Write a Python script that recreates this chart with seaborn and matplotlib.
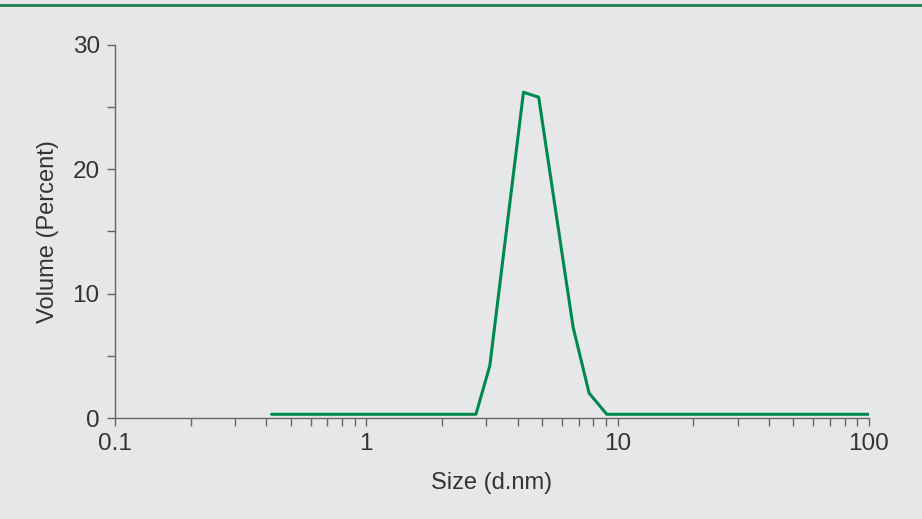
import matplotlib
matplotlib.use("Agg")
import matplotlib.pyplot as plt
import matplotlib.ticker as mticker
import seaborn as sns
import pandas as pd

# size distribution by volume
size_nm = [0.42, 2.73, 3.10, 4.22, 4.85, 6.65, 7.70, 9.05, 100.0]
volume_pct = [0.3, 0.3, 4.2, 26.2, 25.8, 7.3, 2.0, 0.3, 0.3]

y_ticks = [0, 10, 20, 30]
x_ticks = [0.1, 1, 10, 100]
x_tick_labels = ["0.1", "1", "10", "100"]

bg = "#e6e7e8"
green = "#00894d"
ink = "#333333"

sns.set_style("ticks")
plt.rcParams["font.family"] = ["Liberation Sans", "DejaVu Sans"]

df = pd.DataFrame({"size": size_nm, "volume": volume_pct})

fig = plt.figure(figsize=(9.22, 5.19), dpi=100, facecolor=bg)
ax = fig.add_axes([0.1247, 0.1946, 0.8178, 0.7187])
ax.set_facecolor(bg)

sns.lineplot(data=df, x="size", y="volume", color=green, linewidth=2.2, ax=ax)

ax.set_xscale("log")
ax.set_xlim(0.1, 100)
ax.set_ylim(0, 30)
ax.set_xticks(x_ticks)
ax.set_xticklabels(x_tick_labels)
ax.xaxis.set_minor_locator(mticker.LogLocator(base=10, subs=range(2, 10)))
ax.xaxis.set_minor_formatter(mticker.NullFormatter())
ax.set_yticks(y_ticks)
ax.yaxis.set_minor_locator(mticker.MultipleLocator(5))

for s in ["top", "right"]:
    ax.spines[s].set_visible(False)
for s in ["left", "bottom"]:
    ax.spines[s].set_color("#666666")
    ax.spines[s].set_linewidth(1.0)

ax.tick_params(which="major", length=6, width=1.0, color="#666666",
               labelsize=17.5, labelcolor=ink, pad=5)
ax.tick_params(which="minor", length=6, width=1.0, color="#666666")

ax.set_xlabel("Size (d.nm)", fontsize=17, color=ink, labelpad=12)
ax.set_ylabel("Volume (Percent)", fontsize=17, color=ink, labelpad=10)

# green rule across the top of the panel
fig.add_artist(plt.Line2D([0, 1], [0.99, 0.99], color="#1a7f4b",
                          linewidth=2, transform=fig.transFigure))

plt.savefig("out.png", dpi=100, facecolor=bg)
plt.close()
